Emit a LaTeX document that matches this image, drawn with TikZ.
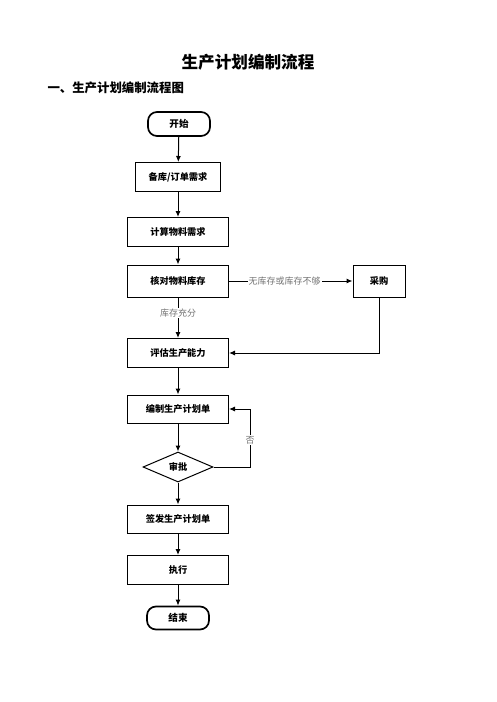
\documentclass[tikz,border=0pt]{standalone}
\usepackage{fontspec}
\newfontfamily\cjk{Noto Sans CJK SC}
\usetikzlibrary{positioning,shapes.geometric,arrows.meta}
\colorlet{notegray}{black!55}

\begin{document}
\begin{tikzpicture}[x=1pt, y=-1pt,
    procbox/.style={rectangle, draw, line width=1pt, minimum width=101pt,
      minimum height=29pt, inner sep=0pt, font=\cjk\bfseries\fontsize{9.2}{10}\selectfont},
    termbox/.style={rectangle, rounded corners=9pt, draw, line width=1.7pt,
      minimum width=62pt, minimum height=24pt, inner sep=0pt,
      font=\cjk\bfseries\fontsize{9.6}{10}\selectfont},
    checkbox/.style={diamond, draw, line width=1pt, minimum width=70pt,
      minimum height=30pt, inner sep=0pt, font=\cjk\bfseries\fontsize{9.2}{10}\selectfont},
    flow/.style={-{Latex[length=6pt,width=5pt]}, line width=1pt},
    note/.style={text=notegray, fill=white, inner sep=1pt,
      font=\cjk\fontsize{9}{10}\selectfont}]
  \useasboundingbox (0,0) rectangle (496,702);

  % headings
  \node[font=\cjk\bfseries\fontsize{16.6}{18}\selectfont] (title) at (248,62) {生产计划编制流程};
  \node[anchor=west, font=\cjk\bfseries\fontsize{12.4}{14}\selectfont] (subtitle) at (44,88) {一、生产计划编制流程图};

  % main column
  \node[termbox] (start) at (179,124) {开始};
  \node[procbox, minimum width=85pt] (demand) at (178,177) {备库/订单需求};
  \node[procbox] (calc) at (178,232) {计算物料需求};
  \node[procbox, minimum height=32pt] (stock) at (178,281) {核对物料库存};
  \node[procbox, minimum width=52pt, minimum height=32pt] (buy) at (379,281) {采购};
  \node[procbox] (capacity) at (178,353) {评估生产能力};
  \node[procbox, minimum height=28pt] (plan) at (178,409) {编制生产计划单};
  \node[checkbox] (approve) at (178,467) {审批};
  \node[procbox, minimum height=28pt] (issue) at (178,519) {签发生产计划单};
  \node[procbox] (run) at (178,570) {执行};
  \node[termbox, minimum height=23pt] (finish) at (178,618) {结束};
  \coordinate (loopturn) at (250,467);

  % connectors
  \draw[flow] (start) -- (demand);
  \draw[flow] (demand) -- (calc);
  \draw[flow] (calc) -- (stock);
  \draw[flow] (stock) -- node[note, pos=0.45] {无库存或库存不够} (buy);
  \draw[flow] (stock) -- node[note, pos=0.38] {库存充分} (capacity);
  \draw[flow] (buy.south) |- (capacity.east);
  \draw[flow] (capacity) -- (plan);
  \draw[flow] (plan) -- (approve);
  \draw[flow] (approve.east) -- (loopturn) |- node[note, pos=0.23] {否} (plan.east);
  \draw[flow] (approve) -- (issue);
  \draw[flow] (issue) -- (run);
  \draw[flow] (run) -- (finish);
\end{tikzpicture}
\end{document}
